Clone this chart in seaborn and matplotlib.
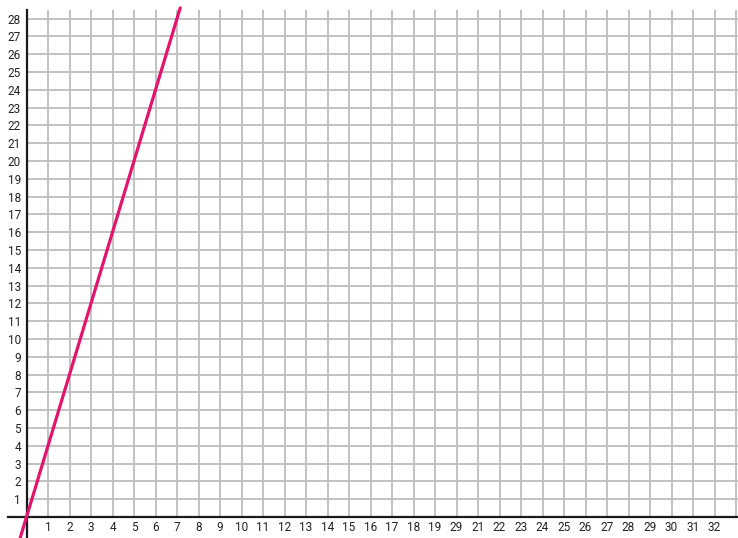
import numpy as np
import pandas as pd
import matplotlib
matplotlib.use("Agg")
import matplotlib.pyplot as plt
import seaborn as sns

# Tick positions and their printed labels
x_ticks = list(range(1, 33))
x_labels = ["1", "2", "3", "4", "5", "6", "7", "8", "9", "10", "11", "12", "13",
            "14", "15", "16", "17", "18", "19", "29", "21", "22", "23", "24", "25",
            "26", "27", "28", "29", "30", "31", "32"]
y_ticks = list(range(1, 29))
y_labels = [str(v) for v in y_ticks]

# Plotted relation y = slope * x
slope = 4

sns.set_theme(style="white")
plt.rcParams["font.family"] = ["Liberation Sans Narrow", "Roboto", "DejaVu Sans"]

W, H = 738, 538
fig = plt.figure(figsize=(W / 100, H / 100), dpi=100)
ax = fig.add_axes([0, 0, 1, 1])

# pixel layout of the coordinate plane
ox, oy = 26.5, 517.0      # origin in pixels (from top-left)
sx, sy = 21.5, 17.8       # pixels per unit
xmin, xmax = -ox / sx, (W - ox) / sx
ymin, ymax = -(H - oy) / sy, oy / sy
ax.set_xlim(xmin, xmax)
ax.set_ylim(ymin, ymax)
grid_top = 28.5

# grid in the first quadrant only
grid_kw = dict(color="#bdbdbd", linewidth=1.3, zorder=1)
ax.vlines(x_ticks + [33], 0, grid_top, **grid_kw)
ax.hlines(y_ticks, 0, xmax, **grid_kw)

# the line, from the bottom edge up to the top of the grid
xs = np.linspace(xmin, 28.6 / slope, 200)
df = pd.DataFrame({"x": xs, "y": slope * xs})
sns.lineplot(data=df, x="x", y="y", ax=ax, color="#e3146e", linewidth=2.3, zorder=4)

# axes through the origin
for s in ["top", "right"]:
    ax.spines[s].set_visible(False)
ax.spines["left"].set_position(("data", 0))
ax.spines["bottom"].set_position(("data", 0))
ax.spines["left"].set_bounds(ymin, grid_top)
ax.spines["bottom"].set_bounds(-0.86, xmax)
for s in ["left", "bottom"]:
    ax.spines[s].set_color("#1a1a1a")
    ax.spines[s].set_linewidth(1.6)
    ax.spines[s].set_zorder(3)

ax.set_xticks(x_ticks)
ax.set_xticklabels(x_labels)
ax.set_yticks(y_ticks)
ax.set_yticklabels(y_labels)
ax.tick_params(axis="both", length=0, labelsize=8.5, colors="#222222")
ax.tick_params(axis="x", pad=3)
ax.tick_params(axis="y", pad=4)
ax.set_xlabel("")
ax.set_ylabel("")
ax.grid(False)

fig.savefig("out.png", dpi=100)
